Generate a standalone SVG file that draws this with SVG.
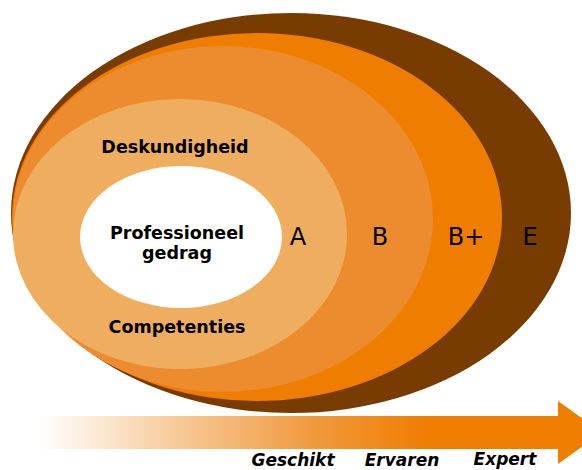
<svg xmlns="http://www.w3.org/2000/svg" width="582" height="470" viewBox="0 0 582 470">
<style>
.lbl{font-family:"DejaVu Sans","Verdana",sans-serif;font-weight:bold;font-size:17.5px;fill:#000;text-anchor:middle}
.lvl{font-family:"DejaVu Sans","Verdana",sans-serif;font-size:24px;fill:#000;text-anchor:middle}
.ax{font-family:"DejaVu Sans","Verdana",sans-serif;font-weight:bold;font-style:italic;font-size:17px;fill:#000;text-anchor:middle}
</style>
<defs>
<linearGradient id="g" gradientUnits="userSpaceOnUse" x1="38" y1="0" x2="430" y2="0">
<stop offset="0" stop-color="#FFFFFF"/>
<stop offset="0.4" stop-color="#F6C48C"/>
<stop offset="0.7" stop-color="#F09A3E"/>
<stop offset="1" stop-color="#EF7D00"/>
</linearGradient>
</defs>
<rect width="582" height="470" fill="#FFFFFF"/>
<g id="E">
<ellipse cx="291" cy="213" rx="280" ry="200" fill="#783C00"/>
<text class="lvl" x="530" y="245">E</text>
</g>
<g id="Bplus">
<ellipse cx="257" cy="217" rx="245" ry="184" fill="#EF7D00"/>
<text class="lvl" x="466" y="245">B+</text>
</g>
<g id="B">
<ellipse cx="223" cy="219" rx="210" ry="173" fill="#ED8B2F"/>
<text class="lvl" x="380" y="245">B</text>
</g>
<g id="A">
<ellipse cx="180" cy="234" rx="167" ry="135" fill="#EFAE5F"/>
<text class="lvl" x="298" y="245">A</text>
<text class="lbl" x="175" y="153">Deskundigheid</text>
<text class="lbl" x="177" y="333">Competenties</text>
</g>
<g id="core">
<ellipse cx="181" cy="237" rx="101" ry="71" fill="#FFFFFF"/>
<text class="lbl" x="177" y="239">Professioneel</text>
<text class="lbl" x="177" y="259">gedrag</text>
</g>
<g id="connectors">
<path d="M38 416 H558 V401 L602 432.5 L558 464 V449 H38 Z" fill="url(#g)"/>
</g>
<g id="axis-labels">
<text class="ax" x="293" y="466">Geschikt</text>
<text class="ax" x="402" y="466">Ervaren</text>
<text class="ax" x="505" y="465">Expert</text>
</g>
</svg>
